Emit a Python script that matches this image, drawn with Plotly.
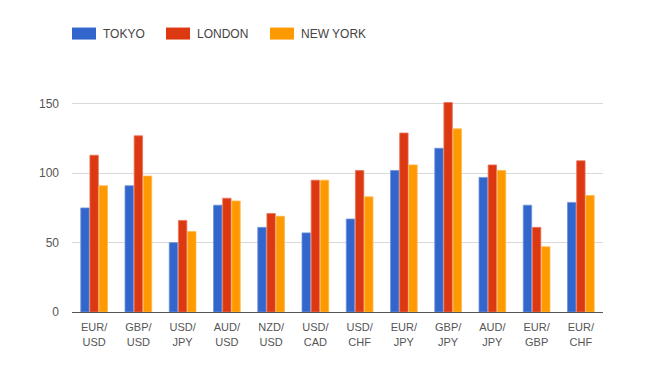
import plotly.graph_objects as go

pairs = ["EUR/<br>USD", "GBP/<br>USD", "USD/<br>JPY", "AUD/<br>USD", "NZD/<br>USD", "USD/<br>CAD",
         "USD/<br>CHF", "EUR/<br>JPY", "GBP/<br>JPY", "AUD/<br>JPY", "EUR/<br>GBP", "EUR/<br>CHF"]
tokyo = [75, 91, 50, 77, 61, 57, 67, 102, 118, 97, 77, 79]
london = [113, 127, 66, 82, 71, 95, 102, 129, 151, 106, 61, 109]
new_york = [91, 98, 58, 80, 69, 95, 83, 106, 132, 102, 47, 84]

series_names = ["TOKYO", "LONDON", "NEW YORK"]
series_values = [tokyo, london, new_york]
colors = ["#3366cc", "#dc3912", "#ff9900"]
edge_colors = ["#6f93db", "#e8745a", "#ffb84d"]
y_ticks = [0, 50, 100, 150]

W, H = 650, 370
# page body adds an 8px offset; compensate
L, R, T, B = 64, 55, 81.5, 66.3

fig = go.Figure()
for name, vals, c, ec in zip(series_names, series_values, colors, edge_colors):
    fig.add_trace(go.Bar(x=pairs, y=vals, name=name, marker=dict(color=c, line=dict(color=ec, width=0.8)),
                         showlegend=False))

# custom legend (large swatches like the reference)
legend_x = [64, 158, 262]
pw, ph = W - L - R, H - T - B
for name, c, lx in zip(series_names, colors, legend_x):
    fig.add_shape(type="rect", xref="paper", yref="paper",
                  x0=(lx - L) / pw, x1=(lx + 24 - L) / pw,
                  y0=(H - B - 31) / ph, y1=(H - B - 19) / ph,
                  fillcolor=c, line=dict(width=0))
    fig.add_annotation(xref="paper", yref="paper",
                       x=(lx + 29 - L) / pw, y=(H - B - 25) / ph,
                       text=name, showarrow=False, xanchor="left", yanchor="middle",
                       font=dict(size=12, color="#444444", family="Liberation Sans, Arial, sans-serif"))

fig.update_layout(
    width=W, height=H,
    margin=dict(l=L, r=R, t=T, b=B),
    paper_bgcolor="white", plot_bgcolor="white",
    barmode="group", bargap=0.38, bargroupgap=0.08,
    font=dict(family="Liberation Sans, Arial, sans-serif", size=11, color="#555555"),
    xaxis=dict(showgrid=False, showline=True, linecolor="#555555", linewidth=1,
               ticks="", ticklabelstandoff=5, tickfont=dict(size=11, color="#555555")),
    yaxis=dict(range=[0, 160], tickvals=y_ticks, showgrid=True, gridcolor="#d9d9d9", gridwidth=1,
               zeroline=False, showline=False, ticks="", ticklabelstandoff=12,
               tickfont=dict(size=12, color="#555555")),
)

fig.write_html("out.html")
